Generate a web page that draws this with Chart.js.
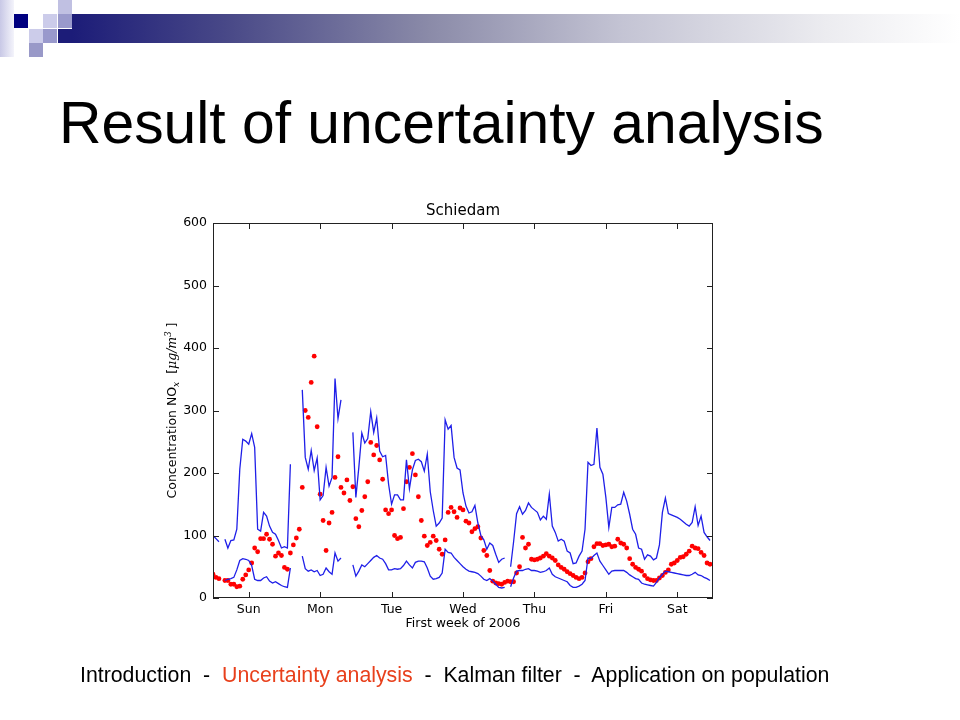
<!DOCTYPE html>
<html>
<head>
<meta charset="utf-8">
<title>Result of uncertainty analysis</title>
<script src="https://cdn.jsdelivr.net/npm/chart.js@4.4.0/dist/chart.umd.min.js"></script>
<style>
  body { margin: 0; width: 960px; height: 720px; background: #fff; position: relative; overflow: hidden; font-family: "Liberation Sans", Arial, sans-serif; }
  .sq { position: absolute; width: 14px; height: 14px; }
  #strip { position: absolute; left: 0; top: 0; width: 14px; height: 57px; background: linear-gradient(to right, #c8c8e6, #f4f4fb); }
  #bar { position: absolute; left: 72px; top: 14px; width: 888px; height: 29px;
         background: linear-gradient(to right, #1c1c78 0%, #4a4a88 18%, #8a8aa8 40%, #c4c4d4 62%, #ececf0 85%, #ffffff 100%); }
  #heading { position: absolute; left: 59px; top: 94px; font-size: 58.8px; line-height: 58px; color: #000; white-space: nowrap; }
  #footer { position: absolute; left: 80px; top: 663px; font-size: 21.3px; line-height: 24px; color: #000; white-space: pre; }
  #footer .here { color: #e8401c; }
  #chart { position: absolute; left: 0; top: 0; }
</style>
</head>
<body>
<div id="strip"></div>
<div class="sq" style="left:14px;top:14px;background:#000080"></div>
<div class="sq" style="left:43px;top:14px;background:#ccccea"></div>
<div class="sq" style="left:58px;top:0;background:#c0c0e2"></div>
<div class="sq" style="left:58px;top:14px;background:#9a9acc"></div>
<div class="sq" style="left:58px;top:29px;background:#1c1c78"></div>
<div class="sq" style="left:29px;top:29px;background:#ccccea"></div>
<div class="sq" style="left:43px;top:29px;background:#9999cc"></div>
<div class="sq" style="left:29px;top:43px;background:#9999c8"></div>
<div id="bar"></div>
<div id="heading">Result of uncertainty analysis</div>
<canvas id="chart" width="960" height="720"></canvas>
<div id="footer">Introduction  -  <span class="here">Uncertainty analysis</span>  -  Kalman filter  -  Application on population</div>

<script>
"use strict";

// hourly values, first week of 2006 (hour 0 = Sunday 00:00)
const dayNames = ['Sun', 'Mon', 'Tue', 'Wed', 'Thu', 'Fri', 'Sat'];
const dayTicks = [12, 36, 60, 84, 108, 132, 156];
const yTicks = [0, 100, 200, 300, 400, 500, 600];

const upperBound = [
	100, 95, 90, null, 94, 80, 92, 93, 110, 206,
	254, 251, 246, 263, 241, 110, 107, 137, 131, 115,
	105, 102, 92, 80, 82, 80, 214, null, null, null,
	333, 225, 206, 236, 204, 224, 157, 164, 209, 179,
	193, 351, 287, 317, null, null, null, 265, 161, 209,
	264, 248, 255, 298, 265, 288, 235, 226, 228, 182,
	150, 165, 165, 157, 157, 221, 175, 205, 220, 222,
	218, 203, 230, 170, 140, 115, 120, 128, 285, 270,
	276, 225, 208, 205, 168, 147, 136, 138, 148, 120,
	100, 93, 78, 88, 84, 70, 57, 62, 64, null,
	50, 90, 135, 146, 134, 140, 152, 145, 141, 137,
	125, 131, 126, 166, 115, 105, 91, 94, 91, 75,
	72, 55, 56, 67, 75, 110, 217, 212, 214, 272,
	209, 198, 161, 113, 145, 145, 149, 150, 169, 155,
	134, 110, 102, 80, 78, 62, 69, 67, 61, 64,
	85, 137, 160, 135, 133, 131, 129, 126, 122, 118,
	115, 121, 146, 116, 131, 105, 98, 92
];

const lowerBound = [
	null, null, null, null, 28, 30, 31, 33, 45, 60,
	63, 62, 60, 52, 30, 28, 28, 32, 34, 27,
	24, 26, 23, 20, 18, 17, 48, null, null, null,
	67, 47, 43, 45, 42, 44, 36, 38, 48, 42,
	38, 72, 59, 64, null, null, null, 53, 35, 43,
	53, 50, 55, 60, 65, 68, 64, 62, 55, 45,
	45, 47, 46, 47, 52, 59, 53, 48, 57, 59,
	59, 58, 48, 35, 30, 31, 33, 40, 78, 73,
	72, 65, 60, 55, 50, 46, 43, 42, 41, 39,
	35, 30, 28, 31, 27, 22, 17, 16, 17, null,
	18, 32, 43, 44, 44, 46, 47, 44, 44, 43,
	41, 42, 44, 48, 38, 34, 32, 30, 28, 26,
	20, 17, 17, 19, 22, 28, 64, 63, 68, 72,
	59, 52, 45, 38, 43, 44, 44, 44, 44, 41,
	37, 34, 31, 30, 24, 22, 21, 20, 19, 25,
	32, 38, 43, 42, 41, 40, 39, 38, 37, 36,
	36, 38, 41, 37, 36, 33, 31, 28
];

const estimate = [
	38, 33, 31, null, 28, 28, 22, 22, 18, 19,
	30, 37, 45, 56, 80, 74, 95, 95, 102, 94,
	86, 67, 72, 68, 49, 46, 72, 85, 96, 110,
	177, 300, 289, 345, 387, 274, 166, 124, 76, 120,
	137, 193, 226, 177, 168, 189, 156, 178, 127, 114,
	140, 162, 186, 249, 229, 244, 221, 190, 141, 135,
	141, 100, 95, 97, 143, 186, 209, 231, 197, 162,
	124, 99, 84, 89, 99, 92, 78, 70, 93, 137,
	145, 138, 129, 144, 141, 123, 120, 106, 111, 114,
	96, 76, 68, 44, 27, 24, 23, 22, 25, 27,
	26, 26, 40, 50, 97, 80, 86, 62, 61, 62,
	64, 67, 71, 67, 64, 60, 53, 49, 46, 42,
	39, 36, 33, 31, 33, 40, 58, 63, 82, 87,
	87, 84, 85, 86, 82, 83, 94, 88, 86, 80,
	63, 54, 49, 46, 43, 36, 31, 29, 28, 28,
	32, 36, 41, 45, 54, 56, 60, 65, 66, 70,
	75, 83, 80, 79, 73, 68, 56, 54
];

const toPoints = arr => arr.map((v, i) => ({ x: i, y: v }));

const tickFont = { family: 'DejaVu Sans', size: 12.5 };

// draw a run of text pieces (normal / italic / sub / superscript) rotated along the y axis
function drawRuns(ctx, runs, cx, cy) {
	ctx.save();
	ctx.translate(cx, cy);
	ctx.rotate(-Math.PI / 2);
	ctx.textBaseline = 'alphabetic';
	ctx.textAlign = 'left';
	let total = 0;
	runs.forEach(r => { ctx.font = r.font; total += ctx.measureText(r.text).width; });
	let x = -total / 2;
	runs.forEach(r => {
		ctx.font = r.font;
		ctx.fillText(r.text, x, 4 + (r.dy || 0));
		x += ctx.measureText(r.text).width;
	});
	ctx.restore();
}

const framePlugin = {
	id: 'frame',
	afterDraw(chart) {
		const { ctx, chartArea: a, scales } = chart;
		const x = scales.x, y = scales.y;
		ctx.save();
		ctx.strokeStyle = '#222';
		ctx.lineWidth = 1;
		ctx.strokeRect(a.left + 0.5, a.top + 0.5, a.right - a.left - 1, a.bottom - a.top - 1);
		ctx.beginPath();
		yTicks.forEach(v => {
			const py = Math.round(y.getPixelForValue(v)) + 0.5;
			ctx.moveTo(a.left, py); ctx.lineTo(a.left + 6, py);
			ctx.moveTo(a.right, py); ctx.lineTo(a.right - 6, py);
		});
		dayTicks.forEach(v => {
			const px = Math.round(x.getPixelForValue(v)) + 0.5;
			ctx.moveTo(px, a.bottom); ctx.lineTo(px, a.bottom - 6);
			ctx.moveTo(px, a.top); ctx.lineTo(px, a.top + 6);
		});
		ctx.stroke();

		ctx.fillStyle = '#000';
		ctx.font = '15px "DejaVu Sans"';
		ctx.textAlign = 'center';
		ctx.textBaseline = 'bottom';
		ctx.fillText('Schiedam', (a.left + a.right) / 2, a.top - 4);

		drawRuns(ctx, [
			{ text: 'Concentration NO', font: '12.5px "DejaVu Sans"' },
			{ text: 'x', font: 'italic 9px "DejaVu Serif"', dy: 3 },
			{ text: '  [', font: '12.5px "DejaVu Sans"' },
			{ text: 'μg/m', font: 'italic 12.5px "DejaVu Serif"' },
			{ text: '3', font: 'italic 8.5px "DejaVu Serif"', dy: -5 },
			{ text: ' ]', font: '12.5px "DejaVu Sans"' }
		], 172, (a.top + a.bottom) / 2);
		ctx.restore();
	}
};

const lineStyle = { borderColor: '#1f1fe8', borderWidth: 1.3, pointRadius: 0, spanGaps: false, tension: 0, fill: false };

new Chart(document.getElementById('chart').getContext('2d'), {
	type: 'line',
	data: {
		datasets: [
			Object.assign({ label: 'upper', data: toPoints(upperBound) }, lineStyle),
			Object.assign({ label: 'lower', data: toPoints(lowerBound) }, lineStyle),
			{
				label: 'estimate',
				data: toPoints(estimate),
				showLine: false,
				pointRadius: 2.4,
				pointBackgroundColor: '#ff0000',
				pointBorderWidth: 0,
				pointBorderColor: '#ff0000'
			}
		]
	},
	options: {
		responsive: false,
		animation: false,
		layout: { padding: { left: 158, top: 223, right: 247, bottom: 88 } },
		plugins: { legend: { display: false }, tooltip: { enabled: false } },
		scales: {
			x: {
				type: 'linear',
				min: 0,
				max: 168,
				grid: { display: false, drawTicks: false },
				border: { display: false },
				afterBuildTicks: s => { s.ticks = dayTicks.map(v => ({ value: v })); },
				afterFit: s => { s.height = 34; },
				ticks: {
					color: '#000', font: tickFont, padding: 4, maxRotation: 0, autoSkip: false,
					callback: v => dayNames[dayTicks.indexOf(v)]
				},
				title: { display: true, text: 'First week of 2006', color: '#000', font: tickFont, padding: { top: 0, bottom: 1 } }
			},
			y: {
				min: 0,
				max: 600,
				grid: { display: false, drawTicks: false },
				border: { display: false },
				afterBuildTicks: s => { s.ticks = yTicks.map(v => ({ value: v })); },
				afterFit: s => { s.width = 55; },
				ticks: { color: '#000', font: tickFont, padding: 6 }
			}
		}
	},
	plugins: [framePlugin]
});
</script>
</body>
</html>
